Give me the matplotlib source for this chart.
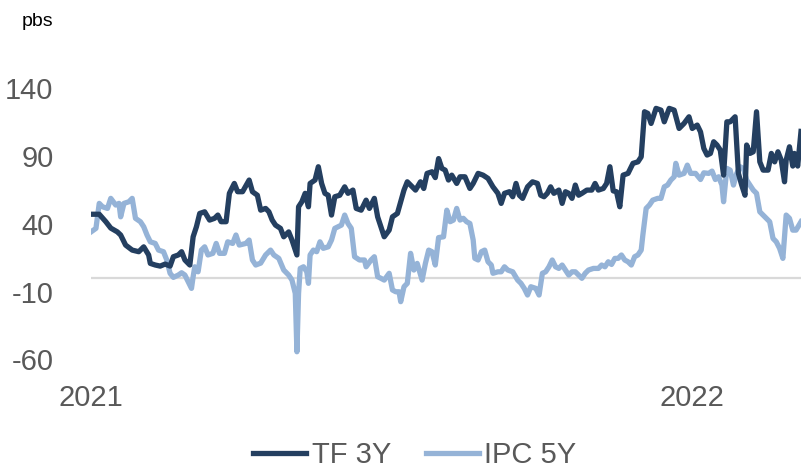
import matplotlib
matplotlib.use("Agg")
import matplotlib.pyplot as plt
import pandas as pd

plt.rcParams['font.family'] = ['Liberation Sans', 'DejaVu Sans']

# Day offsets from 2021-01-01 and values (pbs)
tf_days = [0, 5, 9, 12, 16, 18, 21, 25, 29, 32, 35, 36, 39, 42, 45, 48, 50, 53, 55, 57,
           60, 62, 64, 66, 69, 72, 75, 77, 79, 82, 84, 87, 89, 92, 96, 98, 101, 103, 106, 108,
           110, 112, 115, 117, 120, 122, 123, 125, 126, 128, 130, 132, 133, 136, 138, 140, 142, 144, 146, 148,
           151, 154, 156, 159, 161, 164, 167, 169, 172, 174, 176, 178, 181, 183, 186, 188, 190, 192, 195, 197,
           200, 202, 204, 207, 209, 211, 213, 215, 217, 219, 222, 224, 227, 230, 232, 235, 238, 241, 244, 247,
           249, 251, 254, 256, 258, 260, 262, 265, 268, 271, 273, 275, 277, 279, 281, 284, 286, 288, 290, 292,
           294, 296, 298, 301, 304, 306, 308, 311, 313, 315, 317, 319, 321, 323, 326, 329, 332, 334, 336, 338,
           340, 343, 346, 348, 351, 354, 357, 360, 363, 365, 368, 370, 372, 374, 376, 378, 380, 382, 384, 386,
           388, 391, 393, 395, 397, 398, 400, 402, 404, 406, 408, 411, 413, 415, 417, 419, 421, 422, 424, 426,
           427, 429, 431]
tf_values = [47, 47, 41.5, 36.8, 34, 31.7, 24.3, 20.6, 19.4, 23, 17, 10.8, 9.6, 8.8, 10.3, 8.8, 15.7, 17, 19.4, 13.3,
             9.6, 30.4, 37.8, 47.6, 48.8, 42.7, 44, 46.4, 41.5, 41.5, 62.4, 69.7, 63.6, 63.6, 72.2, 63.6, 61, 50, 51.3, 48.8,
             42.7, 39, 36.6, 30.4, 34, 28, 24.3, 17, 52.5, 56.2, 62.4, 52.5, 69.7, 72.2, 82, 69.7, 62.4, 61, 46.4, 59.9,
             61, 67.2, 62.4, 64.8, 51.3, 50, 57.4, 51.3, 58.7, 45.1, 37.8, 30.4, 35.3, 45.1, 47.6, 56.2, 64.8, 70.9, 67.2, 64.8,
             70.9, 66, 77.1, 78.3, 74, 88, 80.8, 79.5, 72.2, 75.8, 69.7, 74.6, 74.6, 66, 69.7, 77.1, 75.8, 73.4, 67.2, 62.4,
             55, 62.4, 63.6, 59.9, 69.7, 61, 58.7, 67.2, 70.9, 69.7, 61, 59.9, 62.4, 67.2, 62.4, 64.8, 55, 63.6, 62.4, 58.7,
             68.5, 61, 62.4, 64.8, 64.8, 69.7, 64.8, 66, 69.7, 82, 64.2, 63.6, 52.5, 75.8, 77.1, 84.5, 85.6, 89.3, 122.5, 121.3,
             113.9, 125, 123.7, 115.1, 125, 123.7, 110.2, 113.9, 118.8, 110.2, 112.7, 107.7, 95.5, 90.6, 91.8, 100.4, 98, 94.3, 75.8, 115.1,
             115.1, 118.8, 77.1, 68.5, 61, 98, 91.8, 93, 122.5, 85.6, 79.5, 79.5, 91.8, 85.6, 93, 86.9, 70.9, 86.9, 96.7, 82.5,
             91.8, 82.5, 108]

ipc_days = [0, 3, 5, 7, 10, 12, 15, 17, 18, 20, 23, 25, 27, 30, 32, 34, 36, 39, 41, 44,
            46, 48, 50, 53, 55, 57, 59, 61, 62, 63, 65, 67, 69, 71, 74, 76, 78, 81, 83, 86,
            88, 90, 94, 96, 98, 100, 103, 106, 109, 111, 114, 117, 120, 122, 124, 125, 126, 127, 129, 131,
            132, 133, 135, 137, 139, 141, 144, 146, 148, 150, 152, 154, 156, 158, 160, 163, 166, 167, 170, 172,
            174, 176, 178, 181, 183, 185, 187, 188, 190, 192, 194, 196, 198, 201, 203, 205, 207, 209, 211, 214,
            216, 218, 220, 222, 224, 226, 228, 230, 232, 233, 235, 237, 239, 241, 243, 244, 247, 249, 251, 253,
            256, 259, 261, 263, 265, 267, 270, 272, 274, 276, 278, 280, 282, 284, 286, 288, 290, 292, 294, 296,
            298, 300, 302, 305, 308, 310, 312, 314, 316, 318, 320, 322, 324, 326, 328, 330, 332, 334, 335, 337,
            339, 341, 344, 346, 348, 350, 352, 354, 355, 357, 360, 362, 364, 367, 370, 372, 375, 377, 379, 381,
            383, 384, 386, 388, 390, 392, 394, 396, 398, 400, 402, 404, 406, 408, 410, 412, 414, 416, 418, 420,
            422, 424, 426, 428, 431]
ipc_values = [34, 36.6, 55, 52.5, 51.3, 58.7, 53.8, 55, 45.1, 55, 56.2, 58.7, 44, 41.5, 37.8, 31.7, 26.7, 25.5, 20.6, 19.4,
              13.3, 3.5, 0.5, 2.2, 3.9, 2.2, -2.7, -7.6, 1, 8.3, 4.6, 20.6, 23, 17, 18.2, 25.5, 18.2, 18.2, 26.7, 25.5,
              31.7, 24.3, 25.5, 28, 13.3, 9.6, 11, 17, 20.6, 17, 14.5, 5.9, 2.2, -1.5, -11.3, -54.3, -11.3, 7.1, 8.3, 4.6,
              -3.9, 17, 20.6, 19.4, 26.7, 21.9, 23, 28, 36.6, 37.8, 39, 46.4, 40.2, 36.6, 15.7, 13.3, 13.3, 8.3, 13.3, 15.7,
              1, -0.2, -1.5, 3.5, -8.8, -10.1, -10.1, -17.4, -6.4, -3.9, 18.2, 5.9, 10.8, -1.5, 10.8, 20.6, 19.4, 9.6, 29.8, 30.4,
              50, 41.5, 42.7, 51.3, 42.7, 44, 41.5, 40.2, 28, 14.5, 13.3, 19.4, 20.6, 12, 9.6, 3.5, 4.6, 4.6, 8.3, 5.9,
              4.6, -1.5, -3.9, -7.6, -12.5, -6.4, -7.6, -12.5, 3.5, 4.6, 8.3, 13.3, 8.3, 7.1, 9.6, 5.9, 2.2, 4.6, 4.6, 2.2,
              -0.2, 3.5, 5.9, 7.1, 7.1, 9.6, 8.3, 12, 10, 14.5, 14.5, 17, 13.3, 12, 9.6, 15.7, 17, 20.6, 31.7, 51.3,
              53.8, 57.4, 58.7, 58.7, 67.2, 68.5, 72.2, 74.6, 84.5, 75.8, 77.1, 83.2, 77.1, 77.1, 72.6, 77.5, 77.1, 78.8, 72.6, 74.6,
              68.5, 56.2, 80.8, 79.5, 68.5, 77.1, 82, 80.8, 72.2, 68.5, 64.8, 62.4, 48.8, 46.4, 44, 41.5, 29.2, 26.7, 21.9, 14.5,
              46.4, 44, 35.3, 35.3, 41.5]

series_names = ["TF 3Y", "IPC 5Y"]
y_ticks = [140, 90, 40, -10, -60]
x_tick_labels = ["2021", "2022"]
x_tick_dates = ["2021-01-01", "2022-01-01"]
start_date = "2021-01-01"
end_day = 431

base = pd.Timestamp(start_date)
tf_dates = base + pd.to_timedelta(tf_days, unit="D")
ipc_dates = base + pd.to_timedelta(ipc_days, unit="D")

dark = "#243F60"
light = "#95B3D7"
txt = "#595959"

fig = plt.figure(figsize=(8.01, 4.68), dpi=100)
ax = fig.add_axes([91/801, 1 - 359.5/468, 1 - 91/801, (359.5 - 88)/468])

ax.axhline(0, color="#D9D9D9", lw=1.6, zorder=1)
ax.plot(ipc_dates, ipc_values, color=light, lw=3.8, label=series_names[1], zorder=2,
        solid_joinstyle="round")
ax.plot(tf_dates, tf_values, color=dark, lw=3.8, label=series_names[0], zorder=3,
        solid_joinstyle="round")

ax.set_ylim(-60, 140)
ax.set_yticks(y_ticks)
ax.set_yticklabels([str(t) for t in y_ticks])
ax.set_xlim(base, base + pd.Timedelta(days=end_day))
ax.set_xticks(pd.to_datetime(x_tick_dates))
ax.set_xticklabels(x_tick_labels)

for s in ax.spines.values():
    s.set_visible(False)
ax.tick_params(axis="y", length=0, pad=27, labelsize=21, labelcolor=txt)
ax.tick_params(axis="x", length=0, pad=18, labelsize=21, labelcolor=txt)

fig.text(22/801, 1 - 22/468, "pbs", fontsize=14, color="#000000", ha="left", va="center")

h, l = ax.get_legend_handles_labels()
order = [1, 0]
leg = fig.legend([h[i] for i in order], [l[i] for i in order], loc="center",
                 bbox_to_anchor=(415/801, 1 - 455/468), ncol=2, frameon=False,
                 fontsize=21, handlelength=1.8, handletextpad=0.2, columnspacing=1.2,
                 labelcolor=txt)

fig.savefig("out.png", dpi=100)
